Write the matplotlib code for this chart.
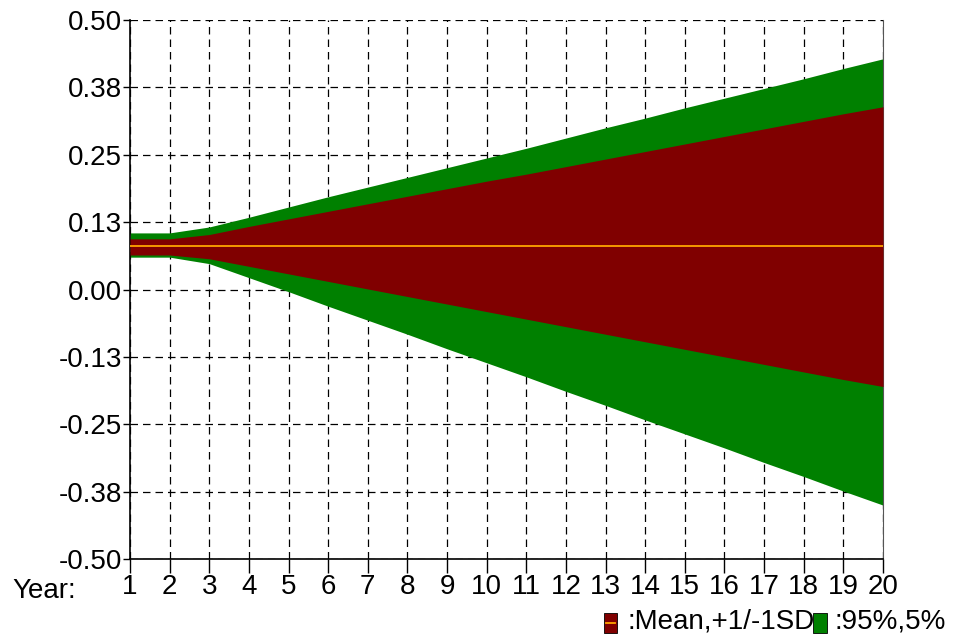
import matplotlib
matplotlib.use("Agg")
import matplotlib.pyplot as plt
from matplotlib.patches import Rectangle
from matplotlib.lines import Line2D

plt.rcParams['font.family'] = ['Liberation Sans', 'DejaVu Sans']

years = list(range(1, 21))
mean = [0.08] * 20
plus_1sd = [0.094, 0.094, 0.102, 0.117, 0.131, 0.145, 0.159, 0.173, 0.187, 0.201,
            0.214, 0.228, 0.242, 0.256, 0.270, 0.284, 0.298, 0.312, 0.326, 0.339]
minus_1sd = [0.064, 0.064, 0.057, 0.043, 0.029, 0.015, 0.001, -0.013, -0.027, -0.041,
             -0.055, -0.069, -0.083, -0.097, -0.111, -0.125, -0.139, -0.153, -0.167, -0.180]
pct95 = [0.105, 0.105, 0.116, 0.134, 0.153, 0.172, 0.190, 0.208, 0.226, 0.244,
         0.262, 0.281, 0.300, 0.318, 0.337, 0.355, 0.373, 0.391, 0.410, 0.428]
pct5 = [0.060, 0.060, 0.048, 0.022, -0.004, -0.031, -0.057, -0.083, -0.110, -0.136,
        -0.162, -0.189, -0.215, -0.242, -0.268, -0.294, -0.321, -0.347, -0.374, -0.400]
ytick_vals = [-0.5, -0.375, -0.25, -0.125, 0.0, 0.125, 0.25, 0.375, 0.5]
ytick_labels = ["-0.50", "-0.38", "-0.25", "-0.13", "0.00", "0.13", "0.25", "0.38", "0.50"]
legend_labels = [":Mean,+1/-1SD", ":95%,5%"]

GREEN = "#008000"
RED = "#800000"
ORANGE = "#FFA500"
FS = 20

fig = plt.figure(figsize=(9.55, 6.36), dpi=100)
ax = fig.add_axes([130 / 955, 1 - 559 / 636, (883 - 130) / 955, (559 - 20) / 636])

ax.fill_between(years, pct5, pct95, color=GREEN, linewidth=0, zorder=2)
ax.fill_between(years, minus_1sd, plus_1sd, color=RED, linewidth=0, zorder=3)
ax.plot(years, mean, color=ORANGE, linewidth=1.3, zorder=4)

ax.set_xlim(1, 20)
ax.set_ylim(-0.5, 0.5)
ax.set_xticks(years)
ax.set_xticklabels([str(y) for y in years], fontsize=FS)
ax.set_yticks(ytick_vals)
ax.set_yticklabels(ytick_labels, fontsize=FS)
ax.tick_params(axis='x', direction='out', length=10, width=1, pad=1)
ax.tick_params(axis='y', direction='out', length=5, width=1, pad=1)

ax.grid(True, color='black', linestyle=(0, (6, 4)), linewidth=0.9, zorder=1)
ax.set_axisbelow(True)
ax.spines['top'].set_visible(False)
ax.spines['right'].set_color('#555555')
for s in ['left', 'bottom']:
    ax.spines[s].set_linewidth(1.2)

fig.text(12 / 955, 1 - 591 / 636, "Year:", fontsize=FS, ha='left', va='center')

# legend
fig.patches.append(Rectangle((604 / 955, 1 - 633 / 636), 13 / 955, 20 / 636,
                             transform=fig.transFigure, facecolor=RED,
                             edgecolor='black', linewidth=0.6))
fig.lines.append(Line2D([606 / 955, 615 / 955], [1 - 623 / 636, 1 - 623 / 636],
                        transform=fig.transFigure, color=ORANGE, linewidth=1.3))
fig.text(627 / 955, 1 - 622 / 636, legend_labels[0], fontsize=FS, ha='left', va='center')
fig.patches.append(Rectangle((813 / 955, 1 - 633 / 636), 14 / 955, 20 / 636,
                             transform=fig.transFigure, facecolor=GREEN,
                             edgecolor='black', linewidth=0.6, zorder=5))
fig.text(834 / 955, 1 - 622 / 636, legend_labels[1], fontsize=FS, ha='left', va='center')

fig.savefig("out.png", dpi=100)
